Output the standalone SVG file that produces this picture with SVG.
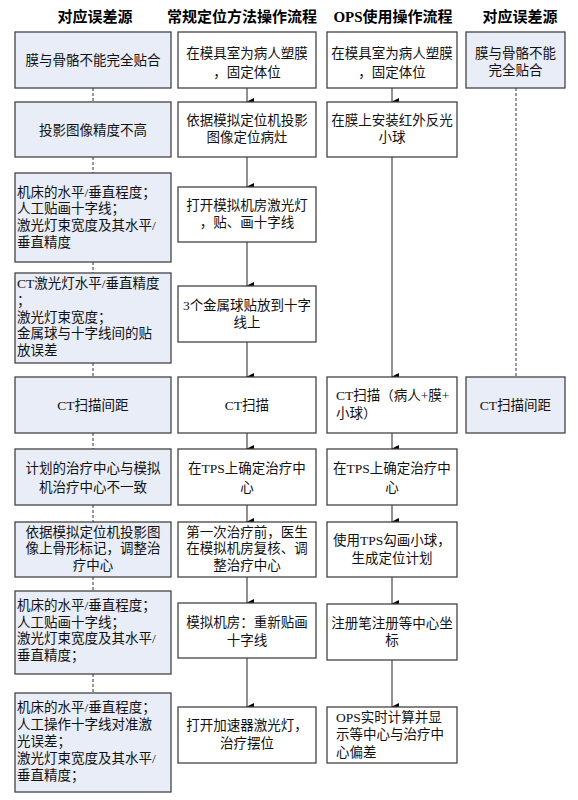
<svg xmlns="http://www.w3.org/2000/svg" width="578" height="800" viewBox="0 0 578 800">
<defs>
<marker id="ah" markerWidth="8" markerHeight="8" refX="4" refY="7" orient="auto" markerUnits="userSpaceOnUse">
<path d="M0,0 L8,0 L4,8 Z" fill="#000"/>
</marker>
</defs>
<style>
.b{fill:#fff;stroke:#444;stroke-width:1.3}
.e{fill:#E8EDF7;stroke:#444;stroke-width:1.3}
text{font-family:"Liberation Serif","Noto Sans CJK SC",serif;font-size:13.5px;fill:#111}
.h{font-size:15px;font-weight:bold;text-anchor:middle;fill:#000}
.c{text-anchor:middle}
.a{stroke:#555;stroke-width:1.3;fill:none;marker-end:url(#ah)}
.d{stroke:#333;stroke-width:1;fill:none;stroke-dasharray:3,2}
</style>
<rect width="578" height="800" fill="#fff"/>
<g id="headers">
<text class="h" x="95" y="22">对应误差源</text>
<text class="h" x="242" y="22">常规定位方法操作流程</text>
<text class="h" x="393" y="22">OPS使用操作流程</text>
<text class="h" x="520" y="22">对应误差源</text>
</g>
<g id="connectors">
<path class="d" d="M93,88V102M93,157V173M93,262V273M93,363V377M93,433V449M93,505V522M93,577V591M93,674V693"/>
<path class="d" d="M516,88V377"/>
<path class="a" d="M247,88V102"/>
<path class="a" d="M247,157V187"/>
<path class="a" d="M247,242V286"/>
<path class="a" d="M247,342V377"/>
<path class="a" d="M247,433V449"/>
<path class="a" d="M247,505V522"/>
<path class="a" d="M247,577V603"/>
<path class="a" d="M247,658V707"/>
<path class="a" d="M392,88V102"/>
<path class="a" d="M392,157V377"/>
<path class="a" d="M392,433V449"/>
<path class="a" d="M392,505V522"/>
<path class="a" d="M392,577V604"/>
<path class="a" d="M392,660V707"/>
</g>
<g id="L1"><rect class="e" x="15" y="32" width="156" height="56"/><text class="c" x="93" y="65">膜与骨骼不能完全贴合</text></g>
<g id="L2"><rect class="e" x="15" y="102" width="156" height="55"/><text class="c" x="93" y="135">投影图像精度不高</text></g>
<g id="L3"><rect class="e" x="15" y="173" width="156" height="89"/>
<text x="17" y="197">机床的水平/垂直程度；</text><text x="17" y="213">人工贴画十字线；</text><text x="17" y="230">激光灯束宽度及其水平/</text><text x="17" y="247">垂直精度</text></g>
<g id="L4"><rect class="e" x="15" y="273" width="156" height="90"/>
<text x="17" y="288">CT激光灯水平/垂直精度</text><text x="17" y="305">；</text><text x="17" y="322">激光灯束宽度；</text><text x="17" y="338">金属球与十字线间的贴</text><text x="17" y="355">放误差</text></g>
<g id="L5"><rect class="e" x="15" y="377" width="156" height="56"/><text class="c" x="93" y="410">CT扫描间距</text></g>
<g id="L6"><rect class="e" x="15" y="449" width="156" height="56"/><text class="c" x="93" y="473">计划的治疗中心与模拟</text><text class="c" x="93" y="492">机治疗中心不一致</text></g>
<g id="L7"><rect class="e" x="15" y="522" width="156" height="55"/><text class="c" x="93" y="537">依据模拟定位机投影图</text><text class="c" x="93" y="553">像上骨形标记，调整治</text><text class="c" x="93" y="570">疗中心</text></g>
<g id="L8"><rect class="e" x="15" y="591" width="156" height="83"/>
<text x="17" y="610">机床的水平/垂直程度；</text><text x="17" y="627">人工贴画十字线；</text><text x="17" y="643">激光灯束宽度及其水平/</text><text x="17" y="660">垂直精度；</text></g>
<g id="L9"><rect class="e" x="15" y="693" width="156" height="99"/>
<text x="17" y="712">机床的水平/垂直程度；</text><text x="17" y="729">人工操作十字线对准激</text><text x="17" y="746">光误差；</text><text x="17" y="763">激光灯束宽度及其水平/</text><text x="17" y="780">垂直精度；</text></g>
<g id="M1"><rect class="b" x="178" y="32" width="138" height="56"/><text class="c" x="247" y="58">在模具室为病人塑膜</text><text class="c" x="247" y="77">，固定体位</text></g>
<g id="M2"><rect class="b" x="178" y="102" width="138" height="55"/><text class="c" x="247" y="125">依据模拟定位机投影</text><text class="c" x="247" y="142">图像定位病灶</text></g>
<g id="M3"><rect class="b" x="178" y="187" width="138" height="55"/><text class="c" x="247" y="210">打开模拟机房激光灯</text><text class="c" x="247" y="227">，贴、画十字线</text></g>
<g id="M4"><rect class="b" x="178" y="286" width="138" height="56"/><text class="c" x="247" y="310">3个金属球贴放到十字</text><text class="c" x="247" y="327">线上</text></g>
<g id="M5"><rect class="b" x="178" y="377" width="138" height="56"/><text class="c" x="247" y="410">CT扫描</text></g>
<g id="M6"><rect class="b" x="178" y="449" width="138" height="56"/><text class="c" x="247" y="473">在TPS上确定治疗中</text><text class="c" x="247" y="492">心</text></g>
<g id="M7"><rect class="b" x="178" y="522" width="138" height="55"/><text class="c" x="247" y="537">第一次治疗前，医生</text><text class="c" x="247" y="553">在模拟机房复核、调</text><text class="c" x="247" y="570">整治疗中心</text></g>
<g id="M8"><rect class="b" x="178" y="603" width="138" height="55"/><text class="c" x="247" y="627">模拟机房：重新贴画</text><text class="c" x="247" y="645">十字线</text></g>
<g id="M9"><rect class="b" x="178" y="707" width="138" height="56"/><text class="c" x="247" y="730">打开加速器激光灯，</text><text class="c" x="247" y="748">治疗摆位</text></g>
<g id="O1"><rect class="b" x="327" y="32" width="130" height="56"/><text class="c" x="392" y="58">在模具室为病人塑膜</text><text class="c" x="392" y="77">，固定体位</text></g>
<g id="O2"><rect class="b" x="327" y="102" width="130" height="55"/><text class="c" x="392" y="125">在膜上安装红外反光</text><text class="c" x="392" y="142">小球</text></g>
<g id="O3"><rect class="b" x="327" y="377" width="130" height="56"/><text x="336" y="400">CT扫描（病人+膜+</text><text x="336" y="418">小球）</text></g>
<g id="O4"><rect class="b" x="327" y="449" width="130" height="56"/><text class="c" x="392" y="473">在TPS上确定治疗中</text><text class="c" x="392" y="492">心</text></g>
<g id="O5"><rect class="b" x="327" y="522" width="130" height="55"/><text class="c" x="392" y="545">使用TPS勾画小球，</text><text class="c" x="392" y="563">生成定位计划</text></g>
<g id="O6"><rect class="b" x="327" y="604" width="130" height="56"/><text class="c" x="392" y="628">注册笔注册等中心坐</text><text class="c" x="392" y="645">标</text></g>
<g id="O7"><rect class="b" x="327" y="707" width="130" height="56"/><text x="336" y="722">OPS实时计算并显</text><text x="336" y="739">示等中心与治疗中</text><text x="336" y="757">心偏差</text></g>
<g id="R1"><rect class="e" x="466" y="32" width="99" height="56"/><text class="c" x="515.5" y="58">膜与骨骼不能</text><text class="c" x="515.5" y="75">完全贴合</text></g>
<g id="R2"><rect class="e" x="466" y="377" width="99" height="56"/><text class="c" x="515.5" y="410">CT扫描间距</text></g>
</svg>
